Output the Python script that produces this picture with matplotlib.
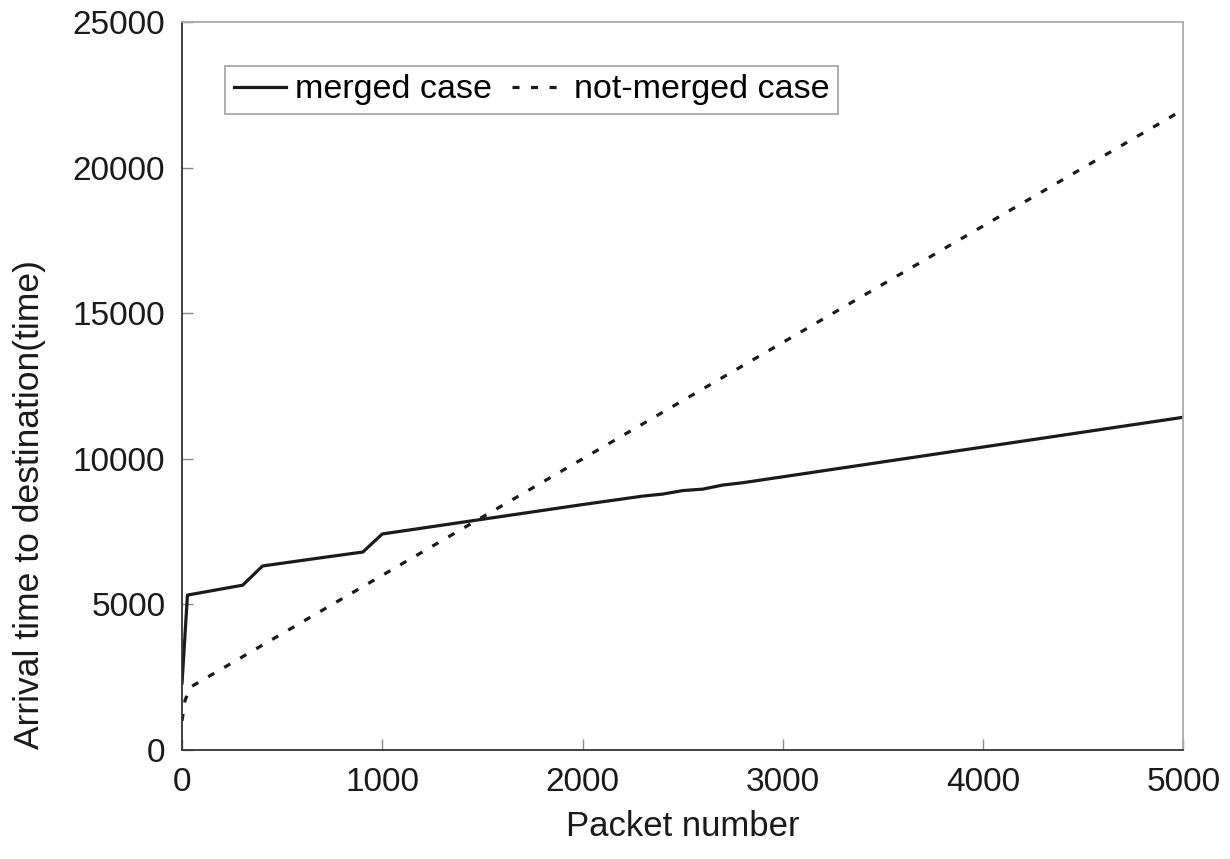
import matplotlib
matplotlib.use('Agg')
from matplotlib import pyplot as plt

plt.rcParams['font.family'] = ['Liberation Sans', 'DejaVu Sans']

# merged case
merged_x = [0, 27, 303, 402, 650, 903, 1000, 2000, 2300, 2400, 2500, 2600, 2700, 2800, 5000]
merged_y = [2300, 5320, 5660, 6320, 6560, 6800, 7420, 8430, 8720, 8790, 8910, 8960, 9100, 9180, 11430]

# not-merged case
notmerged_x = [0, 15, 40, 1000, 3000, 5000]
notmerged_y = [1000, 1700, 2150, 6000, 14000, 22000]

fig = plt.figure(figsize=(12.3, 8.59), dpi=100)
ax = fig.add_axes([0.148, 0.127, 0.814, 0.847])

ax.plot(merged_x, merged_y, color='#1a1a1a', lw=2.3, label='merged case')
ax.plot(notmerged_x, notmerged_y, color='#1a1a1a', lw=2.3,
        linestyle=(0, (2.2, 3.6)), label='not-merged case')

ax.set_xlim(0, 5000)
ax.set_ylim(0, 25000)
ax.set_xticks([0, 1000, 2000, 3000, 4000, 5000])
ax.set_yticks([0, 5000, 10000, 15000, 20000, 25000])
ax.tick_params(direction='in', length=8, width=1, color='#888888',
               labelsize=24, pad=12, labelcolor='#1a1a1a')

for s in ['left', 'bottom']:
    ax.spines[s].set_color('#333333')
    ax.spines[s].set_linewidth(1.3)
for s in ['top', 'right']:
    ax.spines[s].set_color('#aaaaaa')
    ax.spines[s].set_linewidth(1.3)

ax.set_xlabel('Packet number', fontsize=25, color='#1a1a1a')
ax.xaxis.set_label_coords(0.5, -0.083)
ax.set_ylabel('Arrival time to destination(time)', fontsize=25.5, color='#1a1a1a')
ax.yaxis.set_label_coords(-0.136, 0.337)

leg = ax.legend(loc='upper left', bbox_to_anchor=(0.043, 0.94), ncol=2,
                fontsize=24.5, frameon=True, fancybox=False, handlelength=1.55,
                handletextpad=0.25, columnspacing=0.6, borderpad=0.25,
                borderaxespad=0)
leg.get_frame().set_edgecolor('#888888')
leg.get_frame().set_linewidth(1.2)

fig.savefig('out.png', dpi=100)
